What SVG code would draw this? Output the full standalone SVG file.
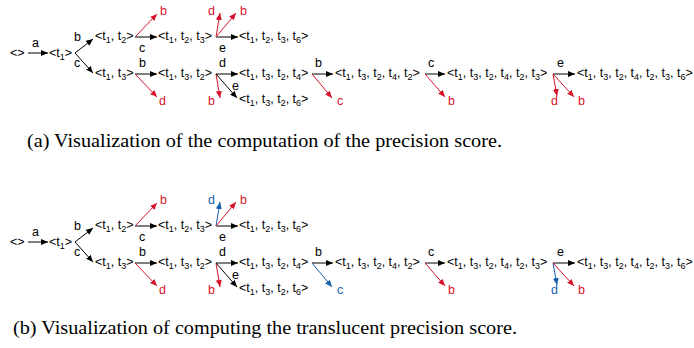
<svg xmlns="http://www.w3.org/2000/svg" width="694" height="348" viewBox="0 0 694 348">
<defs>
<style>
text{font-family:"Liberation Sans",Arial,sans-serif;font-size:12.5px;fill:#000}
.s{font-size:9px}
.r{fill:#d6132a}
.bl{fill:#1660b0}
.cap{font-family:"Liberation Serif","Times New Roman",serif;font-size:18px}
line{fill:none;stroke-width:1}
.k{stroke:#000;marker-end:url(#ak)}
.g{stroke:#707070;stroke-width:1.8;marker-end:url(#ak)}
.rl{stroke:#d6132a;marker-end:url(#ar)}
.bll{stroke:#1660b0;marker-end:url(#ab)}
</style>
<marker id="ak" markerWidth="7" markerHeight="6" refX="7" refY="3" orient="auto" markerUnits="userSpaceOnUse"><path d="M0,0 L7,3 L0,6 z" fill="#000"/></marker>
<marker id="ar" markerWidth="7" markerHeight="6" refX="7" refY="3" orient="auto" markerUnits="userSpaceOnUse"><path d="M0,0 L7,3 L0,6 z" fill="#d6132a"/></marker>
<marker id="ab" markerWidth="7" markerHeight="6" refX="7" refY="3" orient="auto" markerUnits="userSpaceOnUse"><path d="M0,0 L7,3 L0,6 z" fill="#1660b0"/></marker>
</defs>
<rect width="694" height="348" fill="#fff"/>

<!-- Panel (a) -->
<g id="panel-a">
<g id="a-n0"><text x="10" y="57">&lt;&gt;</text></g>
<g id="a-n1"><text x="49" y="57">&lt;t<tspan class="s" dy="3">1</tspan><tspan dy="-3">&gt;</tspan></text></g>
<g id="a-n2"><text x="95" y="40">&lt;t<tspan class="s" dy="3">1</tspan><tspan dy="-3">, t</tspan><tspan class="s" dy="3">2</tspan><tspan dy="-3">&gt;</tspan></text></g>
<g id="a-n3"><text x="95" y="77">&lt;t<tspan class="s" dy="3">1</tspan><tspan dy="-3">, t</tspan><tspan class="s" dy="3">3</tspan><tspan dy="-3">&gt;</tspan></text></g>
<g id="a-n4"><text x="158" y="40">&lt;t<tspan class="s" dy="3">1</tspan><tspan dy="-3">, t</tspan><tspan class="s" dy="3">2</tspan><tspan dy="-3">, t</tspan><tspan class="s" dy="3">3</tspan><tspan dy="-3">&gt;</tspan></text></g>
<g id="a-n5"><text x="158" y="77">&lt;t<tspan class="s" dy="3">1</tspan><tspan dy="-3">, t</tspan><tspan class="s" dy="3">3</tspan><tspan dy="-3">, t</tspan><tspan class="s" dy="3">2</tspan><tspan dy="-3">&gt;</tspan></text></g>
<g id="a-n6"><text x="239" y="40">&lt;t<tspan class="s" dy="3">1</tspan><tspan dy="-3">, t</tspan><tspan class="s" dy="3">2</tspan><tspan dy="-3">, t</tspan><tspan class="s" dy="3">3</tspan><tspan dy="-3">, t</tspan><tspan class="s" dy="3">6</tspan><tspan dy="-3">&gt;</tspan></text></g>
<g id="a-n7"><text x="239" y="77">&lt;t<tspan class="s" dy="3">1</tspan><tspan dy="-3">, t</tspan><tspan class="s" dy="3">3</tspan><tspan dy="-3">, t</tspan><tspan class="s" dy="3">2</tspan><tspan dy="-3">, t</tspan><tspan class="s" dy="3">4</tspan><tspan dy="-3">&gt;</tspan></text></g>
<g id="a-n8"><text x="239" y="103">&lt;t<tspan class="s" dy="3">1</tspan><tspan dy="-3">, t</tspan><tspan class="s" dy="3">3</tspan><tspan dy="-3">, t</tspan><tspan class="s" dy="3">2</tspan><tspan dy="-3">, t</tspan><tspan class="s" dy="3">6</tspan><tspan dy="-3">&gt;</tspan></text></g>
<g id="a-n9"><text x="335" y="77">&lt;t<tspan class="s" dy="3">1</tspan><tspan dy="-3">, t</tspan><tspan class="s" dy="3">3</tspan><tspan dy="-3">, t</tspan><tspan class="s" dy="3">2</tspan><tspan dy="-3">, t</tspan><tspan class="s" dy="3">4</tspan><tspan dy="-3">, t</tspan><tspan class="s" dy="3">2</tspan><tspan dy="-3">&gt;</tspan></text></g>
<g id="a-n10"><text x="447" y="77">&lt;t<tspan class="s" dy="3">1</tspan><tspan dy="-3">, t</tspan><tspan class="s" dy="3">3</tspan><tspan dy="-3">, t</tspan><tspan class="s" dy="3">2</tspan><tspan dy="-3">, t</tspan><tspan class="s" dy="3">4</tspan><tspan dy="-3">, t</tspan><tspan class="s" dy="3">2</tspan><tspan dy="-3">, t</tspan><tspan class="s" dy="3">3</tspan><tspan dy="-3">&gt;</tspan></text></g>
<g id="a-n11"><text x="577" y="77">&lt;t<tspan class="s" dy="3">1</tspan><tspan dy="-3">, t</tspan><tspan class="s" dy="3">3</tspan><tspan dy="-3">, t</tspan><tspan class="s" dy="3">2</tspan><tspan dy="-3">, t</tspan><tspan class="s" dy="3">4</tspan><tspan dy="-3">, t</tspan><tspan class="s" dy="3">2</tspan><tspan dy="-3">, t</tspan><tspan class="s" dy="3">3</tspan><tspan dy="-3">, t</tspan><tspan class="s" dy="3">6</tspan><tspan dy="-3">&gt;</tspan></text></g>
<g id="a-connectors">
<line class="k" x1="28" y1="53" x2="48" y2="53"/><text x="32" y="47">a</text>
<line class="k" x1="75" y1="53" x2="93" y2="39"/><text x="74" y="41">b</text>
<line class="k" x1="75" y1="53" x2="93" y2="73"/><text x="74" y="67">c</text>
<line class="rl" x1="135" y1="37" x2="157" y2="14"/><text class="r" x="160" y="15">b</text>
<line class="g" x1="135" y1="37" x2="157" y2="37"/><text x="139" y="52">c</text>
<line class="rl" x1="216" y1="37" x2="220" y2="13"/><text class="r" x="208" y="15">d</text>
<line class="rl" x1="216" y1="37" x2="236" y2="13"/><text class="r" x="240" y="15">b</text>
<line class="g" x1="216" y1="37" x2="238" y2="37"/><text x="219" y="52">e</text>
<line class="k" x1="135" y1="74" x2="157" y2="74"/><text x="139" y="67">b</text>
<line class="rl" x1="135" y1="74" x2="157" y2="97"/><text class="r" x="159" y="105">d</text>
<line class="k" x1="216" y1="74" x2="238" y2="74"/><text x="219" y="67">d</text>
<line class="rl" x1="216" y1="74" x2="220" y2="98"/><text class="r" x="208" y="105">b</text>
<line class="k" x1="216" y1="74" x2="237" y2="98"/><text x="232" y="90">e</text>
<line class="k" x1="312" y1="74" x2="333" y2="74"/><text x="315" y="67">b</text>
<line class="rl" x1="312" y1="74" x2="332" y2="98"/><text class="r" x="337" y="105">c</text>
<line class="k" x1="425" y1="74" x2="445" y2="74"/><text x="428" y="67">c</text>
<line class="rl" x1="425" y1="74" x2="445" y2="97"/><text class="r" x="448" y="105">b</text>
<line class="k" x1="553" y1="74" x2="575" y2="74"/><text x="557" y="67">e</text>
<line class="rl" x1="553" y1="74" x2="557" y2="96"/><text class="r" x="551" y="105">d</text>
<line class="rl" x1="553" y1="74" x2="574" y2="97"/><text class="r" x="578" y="105">b</text>
</g>
</g>
<text class="cap" x="27" y="147" textLength="475" lengthAdjust="spacingAndGlyphs">(a) Visualization of the computation of the precision score.</text>

<!-- Panel (b) -->
<g id="panel-b" transform="translate(0,189)">
<g id="b-n0"><text x="10" y="57">&lt;&gt;</text></g>
<g id="b-n1"><text x="49" y="57">&lt;t<tspan class="s" dy="3">1</tspan><tspan dy="-3">&gt;</tspan></text></g>
<g id="b-n2"><text x="95" y="40">&lt;t<tspan class="s" dy="3">1</tspan><tspan dy="-3">, t</tspan><tspan class="s" dy="3">2</tspan><tspan dy="-3">&gt;</tspan></text></g>
<g id="b-n3"><text x="95" y="77">&lt;t<tspan class="s" dy="3">1</tspan><tspan dy="-3">, t</tspan><tspan class="s" dy="3">3</tspan><tspan dy="-3">&gt;</tspan></text></g>
<g id="b-n4"><text x="158" y="40">&lt;t<tspan class="s" dy="3">1</tspan><tspan dy="-3">, t</tspan><tspan class="s" dy="3">2</tspan><tspan dy="-3">, t</tspan><tspan class="s" dy="3">3</tspan><tspan dy="-3">&gt;</tspan></text></g>
<g id="b-n5"><text x="158" y="77">&lt;t<tspan class="s" dy="3">1</tspan><tspan dy="-3">, t</tspan><tspan class="s" dy="3">3</tspan><tspan dy="-3">, t</tspan><tspan class="s" dy="3">2</tspan><tspan dy="-3">&gt;</tspan></text></g>
<g id="b-n6"><text x="239" y="40">&lt;t<tspan class="s" dy="3">1</tspan><tspan dy="-3">, t</tspan><tspan class="s" dy="3">2</tspan><tspan dy="-3">, t</tspan><tspan class="s" dy="3">3</tspan><tspan dy="-3">, t</tspan><tspan class="s" dy="3">6</tspan><tspan dy="-3">&gt;</tspan></text></g>
<g id="b-n7"><text x="239" y="77">&lt;t<tspan class="s" dy="3">1</tspan><tspan dy="-3">, t</tspan><tspan class="s" dy="3">3</tspan><tspan dy="-3">, t</tspan><tspan class="s" dy="3">2</tspan><tspan dy="-3">, t</tspan><tspan class="s" dy="3">4</tspan><tspan dy="-3">&gt;</tspan></text></g>
<g id="b-n8"><text x="239" y="103">&lt;t<tspan class="s" dy="3">1</tspan><tspan dy="-3">, t</tspan><tspan class="s" dy="3">3</tspan><tspan dy="-3">, t</tspan><tspan class="s" dy="3">2</tspan><tspan dy="-3">, t</tspan><tspan class="s" dy="3">6</tspan><tspan dy="-3">&gt;</tspan></text></g>
<g id="b-n9"><text x="335" y="77">&lt;t<tspan class="s" dy="3">1</tspan><tspan dy="-3">, t</tspan><tspan class="s" dy="3">3</tspan><tspan dy="-3">, t</tspan><tspan class="s" dy="3">2</tspan><tspan dy="-3">, t</tspan><tspan class="s" dy="3">4</tspan><tspan dy="-3">, t</tspan><tspan class="s" dy="3">2</tspan><tspan dy="-3">&gt;</tspan></text></g>
<g id="b-n10"><text x="447" y="77">&lt;t<tspan class="s" dy="3">1</tspan><tspan dy="-3">, t</tspan><tspan class="s" dy="3">3</tspan><tspan dy="-3">, t</tspan><tspan class="s" dy="3">2</tspan><tspan dy="-3">, t</tspan><tspan class="s" dy="3">4</tspan><tspan dy="-3">, t</tspan><tspan class="s" dy="3">2</tspan><tspan dy="-3">, t</tspan><tspan class="s" dy="3">3</tspan><tspan dy="-3">&gt;</tspan></text></g>
<g id="b-n11"><text x="577" y="77">&lt;t<tspan class="s" dy="3">1</tspan><tspan dy="-3">, t</tspan><tspan class="s" dy="3">3</tspan><tspan dy="-3">, t</tspan><tspan class="s" dy="3">2</tspan><tspan dy="-3">, t</tspan><tspan class="s" dy="3">4</tspan><tspan dy="-3">, t</tspan><tspan class="s" dy="3">2</tspan><tspan dy="-3">, t</tspan><tspan class="s" dy="3">3</tspan><tspan dy="-3">, t</tspan><tspan class="s" dy="3">6</tspan><tspan dy="-3">&gt;</tspan></text></g>
<g id="b-connectors">
<line class="k" x1="28" y1="53" x2="48" y2="53"/><text x="32" y="47">a</text>
<line class="k" x1="75" y1="53" x2="93" y2="39"/><text x="74" y="41">b</text>
<line class="k" x1="75" y1="53" x2="93" y2="73"/><text x="74" y="67">c</text>
<line class="rl" x1="135" y1="37" x2="157" y2="14"/><text class="r" x="160" y="15">b</text>
<line class="g" x1="135" y1="37" x2="157" y2="37"/><text x="139" y="52">c</text>
<line class="bll" x1="216" y1="37" x2="220" y2="13"/><text class="bl" x="208" y="15">d</text>
<line class="rl" x1="216" y1="37" x2="236" y2="13"/><text class="r" x="240" y="15">b</text>
<line class="g" x1="216" y1="37" x2="238" y2="37"/><text x="219" y="52">e</text>
<line class="k" x1="135" y1="74" x2="157" y2="74"/><text x="139" y="67">b</text>
<line class="rl" x1="135" y1="74" x2="157" y2="97"/><text class="r" x="159" y="105">d</text>
<line class="k" x1="216" y1="74" x2="238" y2="74"/><text x="219" y="67">d</text>
<line class="rl" x1="216" y1="74" x2="220" y2="98"/><text class="r" x="208" y="105">b</text>
<line class="k" x1="216" y1="74" x2="237" y2="98"/><text x="232" y="90">e</text>
<line class="k" x1="312" y1="74" x2="333" y2="74"/><text x="315" y="67">b</text>
<line class="bll" x1="312" y1="74" x2="332" y2="98"/><text class="bl" x="337" y="105">c</text>
<line class="k" x1="425" y1="74" x2="445" y2="74"/><text x="428" y="67">c</text>
<line class="rl" x1="425" y1="74" x2="445" y2="97"/><text class="r" x="448" y="105">b</text>
<line class="k" x1="553" y1="74" x2="575" y2="74"/><text x="557" y="67">e</text>
<line class="bll" x1="553" y1="74" x2="557" y2="96"/><text class="bl" x="551" y="105">d</text>
<line class="rl" x1="553" y1="74" x2="574" y2="97"/><text class="r" x="578" y="105">b</text>
</g>
</g>
<text class="cap" x="13" y="334" textLength="504" lengthAdjust="spacingAndGlyphs">(b) Visualization of computing the translucent precision score.</text>
</svg>
